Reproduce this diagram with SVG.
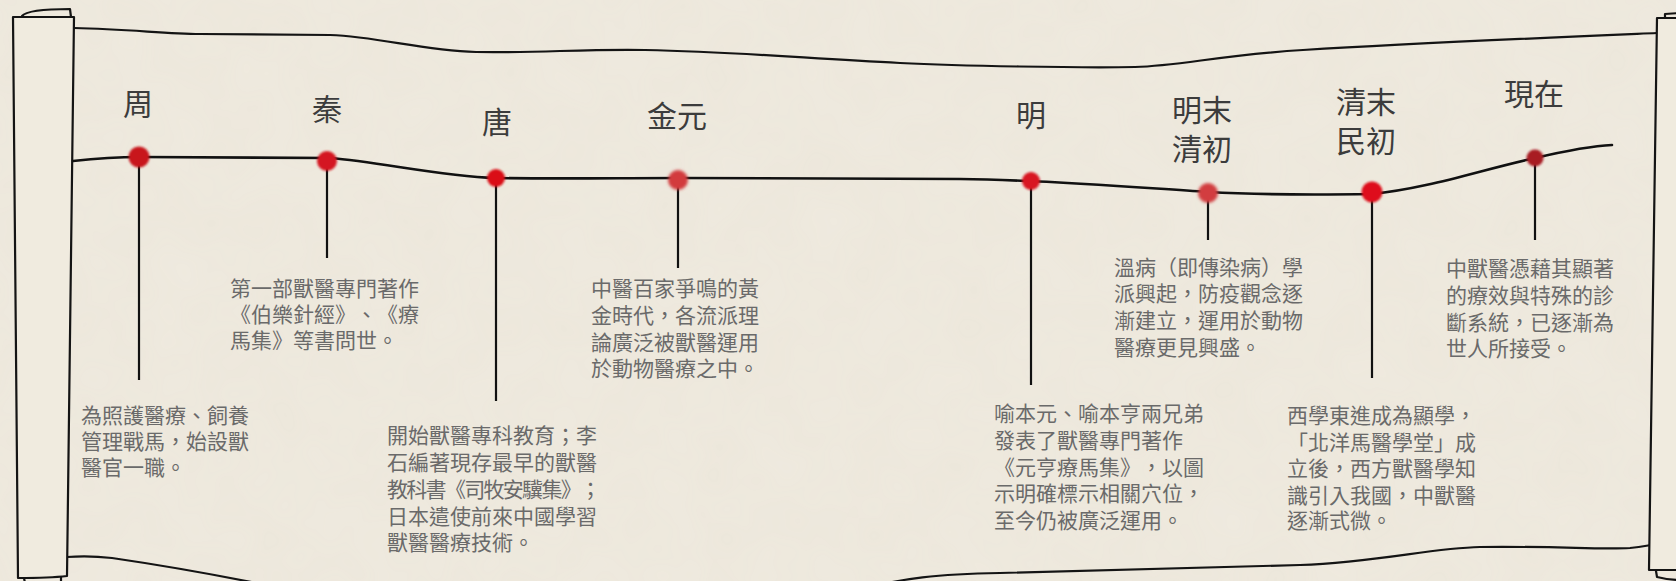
<svg xmlns="http://www.w3.org/2000/svg" width="1676" height="581" viewBox="0 0 1676 581">
<defs>
<style>
.edge{fill:none;stroke:#141414;stroke-width:2.2;stroke-linejoin:round;stroke-linecap:round}
.rod{fill:#f0ebdf;stroke:#141414;stroke-width:2.2;stroke-linejoin:round}
.tl{fill:none;stroke:#111;stroke-width:2.6;stroke-linecap:round}
.stem{stroke:#111;stroke-width:2.2}
.era{font-family:"Liberation Serif","Noto Sans CJK TC",serif;font-size:30px;fill:#3c3c3c;text-anchor:middle}
.desc{font-family:"Noto Sans CJK TC","Noto Sans CJK SC",sans-serif;font-size:21px;fill:#6a6a6a;text-spacing-trim:space-all}
</style>
<filter id="soft" x="-50%" y="-50%" width="200%" height="200%"><feGaussianBlur stdDeviation="1.1"/></filter>
<filter id="softer" x="-50%" y="-50%" width="200%" height="200%"><feGaussianBlur stdDeviation="1.8"/></filter>
<filter id="paper" x="0" y="0" width="100%" height="100%">
<feTurbulence type="fractalNoise" baseFrequency="0.02" numOctaves="2" seed="3" result="n"/>
<feColorMatrix type="matrix" values="0 0 0 0 0.55  0 0 0 0 0.48  0 0 0 0 0.35  0 0 0 0.10 0" in="n"/>
</filter>
</defs>
<rect width="1676" height="581" fill="#efeadf"/>
<rect width="1676" height="581" filter="url(#paper)" opacity="0.6"/>

<g id="scroll">
<path class="edge" d="M 74 28 C 130 29 165 34 200 34 L 330 35 C 380 37 420 50 476 52 C 540 53 580 49 645 50 C 740 52 800 58 900 63 C 960 66 1080 68 1135 67 C 1180 66 1220 55 1303 50 C 1420 43 1540 38 1657 33"/>
<path class="edge" d="M 67 557 C 80 556 95 556 112 558 C 160 565 220 575 300 592"/>
<path class="edge" d="M 860 590 C 900 578 940 574 1000 573 C 1100 571 1200 568 1300 565 C 1380 562 1430 548 1480 547 C 1560 546 1600 550 1630 548 C 1640 547 1645 546 1651 545"/>
<path class="edge" d="M 22 16 C 26 11 45 9 70 9 L 71 17"/>
<path class="rod" d="M 13 17 L 74 17 L 67 576 C 50 578 35 578 18 578 Z"/>
<path class="edge" d="M 24 578 L 25 583 M 61 577 L 61 583"/>
<path class="rod" d="M 1657 18 L 1720 18 L 1720 570 L 1649 570 Z"/>
<path class="edge" d="M 1665 18 L 1665 14 L 1680 13"/>
<path class="edge" d="M 1656 571 L 1657 577 C 1665 579 1672 580 1680 580"/>
</g>

<g id="connectors">
<path class="tl" d="M 73 161 C 100 158 120 157 140 157 L 330 158 C 380 162 440 176 495 178 C 560 179 620 178 680 178 L 960 179 C 1050 180 1130 187 1208 192 C 1260 195 1300 195 1372 194 C 1430 188 1480 170 1535 158 C 1565 151 1590 146 1612 145"/>
<line class="stem" x1="139" y1="157" x2="139" y2="380"/>
<line class="stem" x1="327" y1="161" x2="327" y2="258"/>
<line class="stem" x1="496" y1="178" x2="496" y2="401"/>
<line class="stem" x1="678" y1="180" x2="678" y2="268"/>
<line class="stem" x1="1031" y1="181" x2="1031" y2="385"/>
<line class="stem" x1="1208" y1="193" x2="1208" y2="240"/>
<line class="stem" x1="1372" y1="192" x2="1372" y2="378"/>
<line class="stem" x1="1535" y1="158" x2="1535" y2="240"/>
</g>

<g id="node-zhou">
<circle cx="139" cy="157" r="10.5" fill="#c8141e" filter="url(#soft)"/>
<text class="era" x="138" y="115">周</text>
<text class="desc" x="81"><tspan x="81" y="423">為照護醫療、飼養</tspan><tspan x="81" y="449">管理戰馬，始設獸</tspan><tspan x="81" y="475">醫官一職。</tspan></text>
</g>

<g id="node-qin">
<circle cx="327" cy="161" r="10" fill="#d41420" filter="url(#soft)"/>
<text class="era" x="327" y="120">秦</text>
<text class="desc"><tspan x="230" y="296">第一部獸醫專門著作</tspan><tspan x="230" y="322">《伯樂針經》、《療</tspan><tspan x="230" y="348">馬集》等書問世。</tspan></text>
</g>

<g id="node-tang">
<circle cx="496" cy="178" r="9" fill="#da1018" filter="url(#soft)"/>
<text class="era" x="497" y="133">唐</text>
<text class="desc"><tspan x="387" y="443">開始獸醫專科教育；李</tspan><tspan x="387" y="470">石編著現存最早的獸醫</tspan><tspan x="387" y="497" textLength="214" lengthAdjust="spacing">教科書《司牧安驥集》；</tspan><tspan x="387" y="524">日本遣使前來中國學習</tspan><tspan x="387" y="550">獸醫醫療技術。</tspan></text>
</g>

<g id="node-jinyuan">
<circle cx="678" cy="180" r="10" fill="#d23a3c" filter="url(#softer)"/>
<text class="era" x="677" y="127">金元</text>
<text class="desc"><tspan x="591" y="296">中醫百家爭鳴的黃</tspan><tspan x="591" y="323">金時代，各流派理</tspan><tspan x="591" y="350">論廣泛被獸醫運用</tspan><tspan x="591" y="376">於動物醫療之中。</tspan></text>
</g>

<g id="node-ming">
<circle cx="1031" cy="181" r="9" fill="#d81420" filter="url(#soft)"/>
<text class="era" x="1031" y="126">明</text>
<text class="desc"><tspan x="994" y="421">喻本元、喻本亨兩兄弟</tspan><tspan x="994" y="448">發表了獸醫專門著作</tspan><tspan x="994" y="475">《元亨療馬集》，以圖</tspan><tspan x="994" y="501">示明確標示相關穴位，</tspan><tspan x="994" y="528">至今仍被廣泛運用。</tspan></text>
</g>

<g id="node-mingmo">
<circle cx="1208" cy="193" r="10" fill="#d23c40" filter="url(#softer)"/>
<text class="era"><tspan x="1202" y="121">明末</tspan><tspan x="1202" y="160">清初</tspan></text>
<text class="desc"><tspan x="1114" y="275">溫病（即傳染病）學</tspan><tspan x="1114" y="301">派興起，防疫觀念逐</tspan><tspan x="1114" y="328">漸建立，運用於動物</tspan><tspan x="1114" y="355">醫療更見興盛。</tspan></text>
</g>

<g id="node-qingmo">
<circle cx="1372" cy="192" r="10.5" fill="#de101a" filter="url(#soft)"/>
<text class="era"><tspan x="1366" y="113">清末</tspan><tspan x="1366" y="152">民初</tspan></text>
<text class="desc"><tspan x="1287" y="423">西學東進成為顯學，</tspan><tspan x="1287" y="450">「北洋馬醫學堂」成</tspan><tspan x="1287" y="476">立後，西方獸醫學知</tspan><tspan x="1287" y="503">識引入我國，中獸醫</tspan><tspan x="1287" y="528">逐漸式微。</tspan></text>
</g>

<g id="node-xianzai">
<circle cx="1535" cy="158" r="8.5" fill="#a81a22" filter="url(#soft)"/>
<text class="era" x="1534" y="105">現在</text>
<text class="desc"><tspan x="1446" y="276">中獸醫憑藉其顯著</tspan><tspan x="1446" y="303">的療效與特殊的診</tspan><tspan x="1446" y="330">斷系統，已逐漸為</tspan><tspan x="1446" y="356">世人所接受。</tspan></text>
</g>
</svg>
